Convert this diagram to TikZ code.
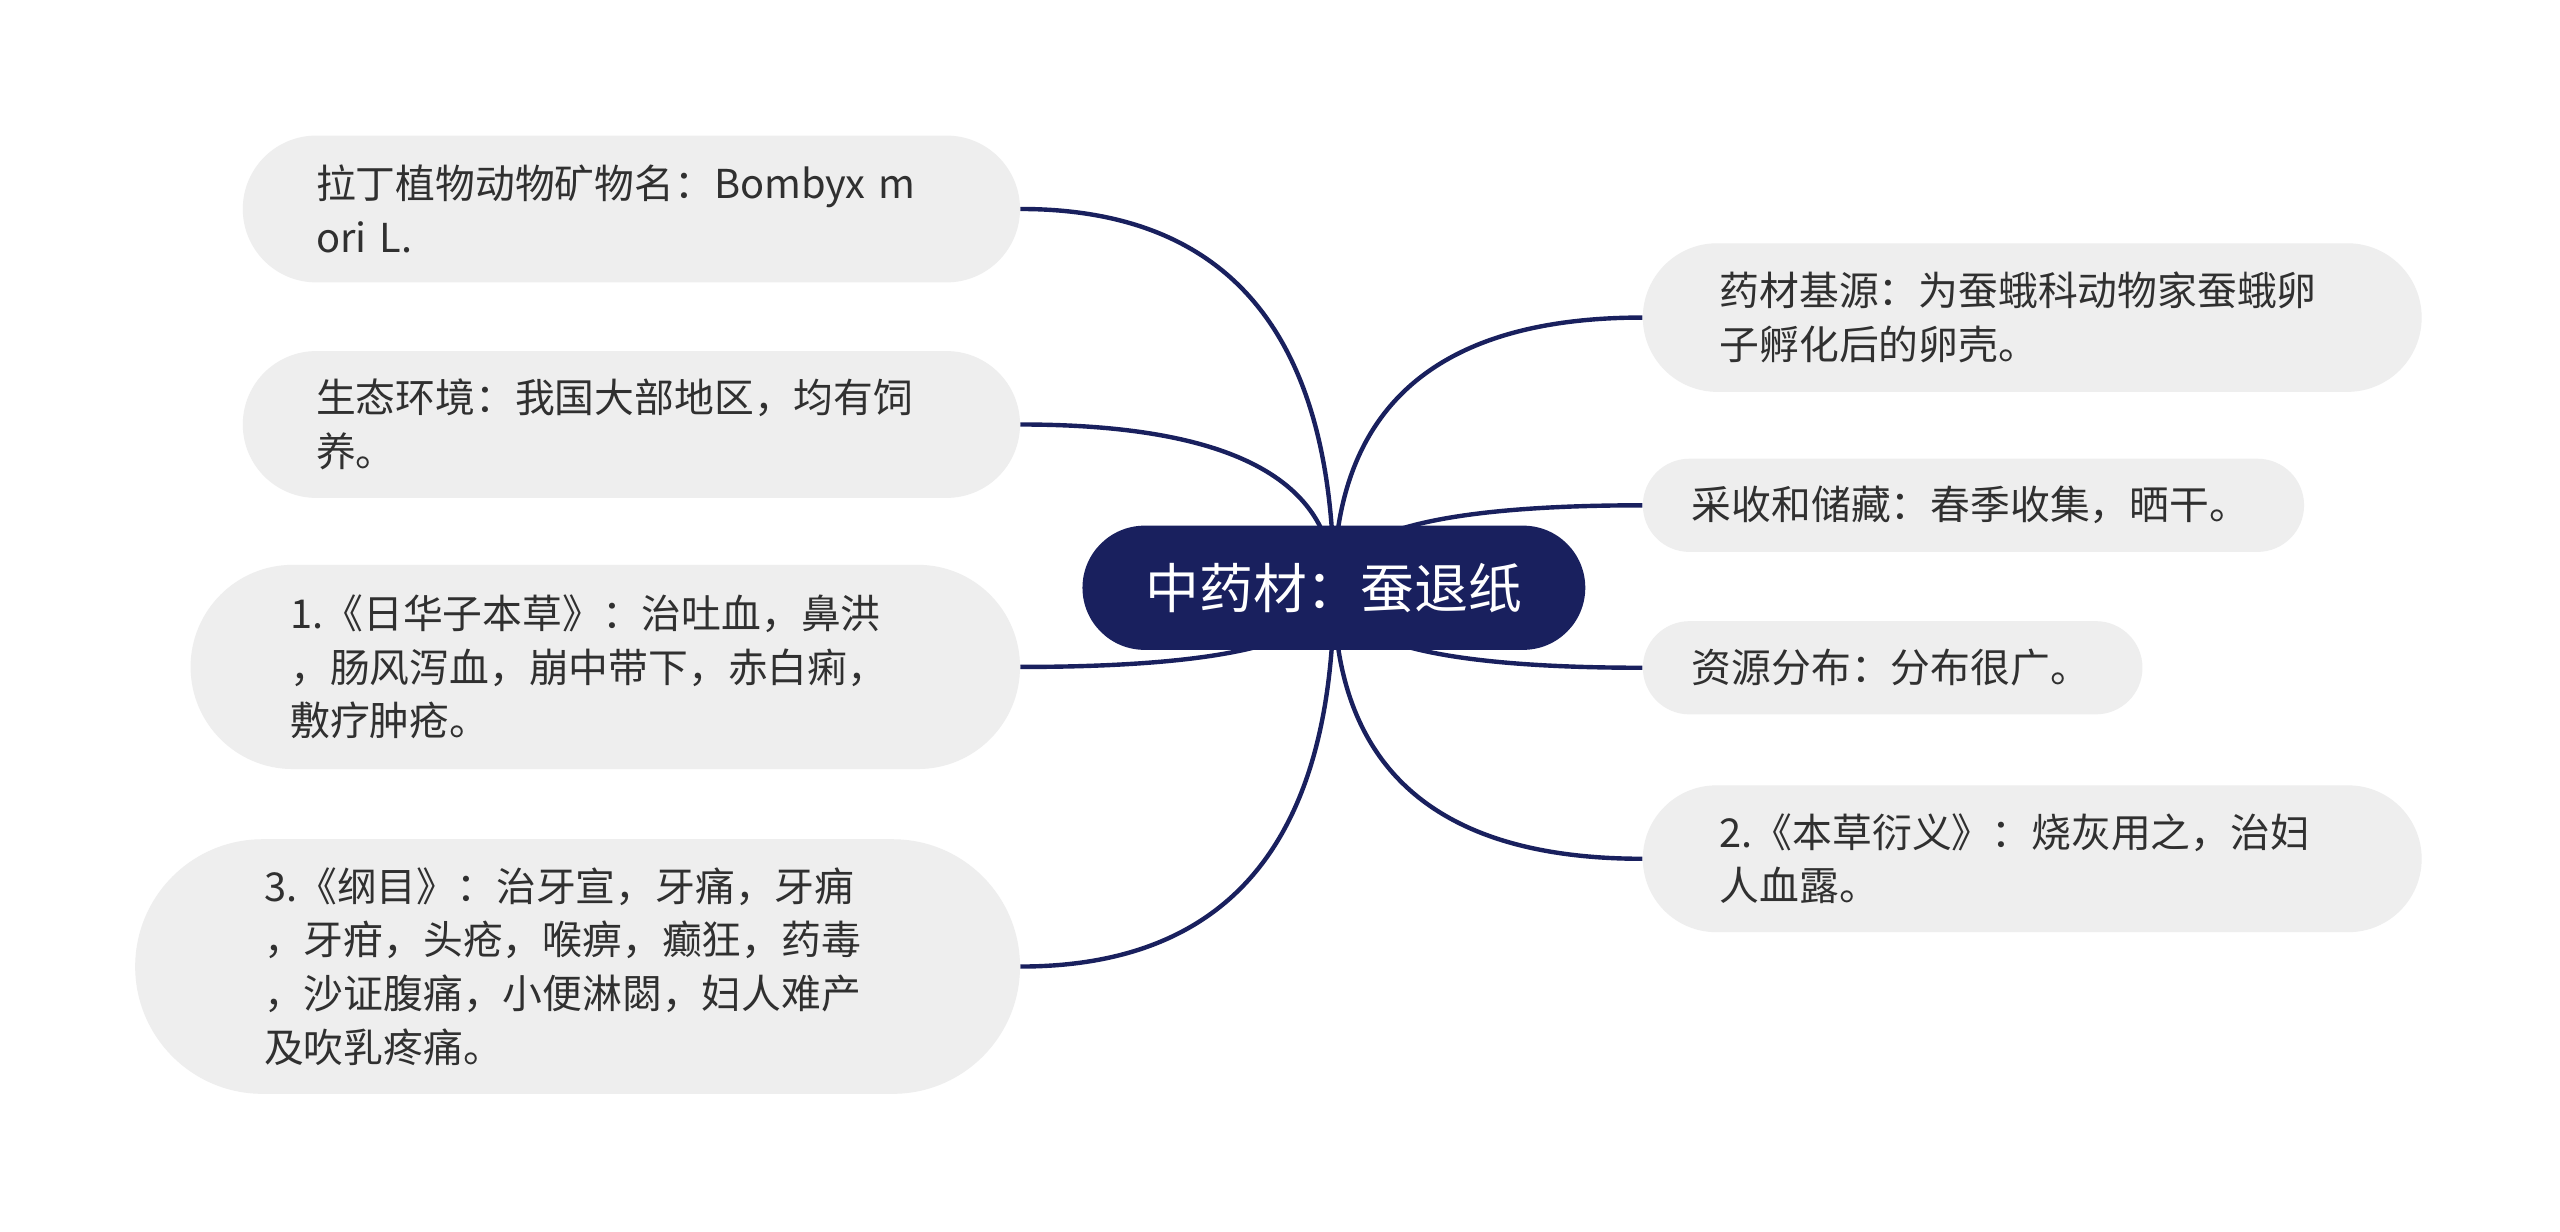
\documentclass[tikz,border=0pt]{standalone}
\usepackage{fontspec}
\newfontfamily\cjkfont{Noto Sans CJK SC}
\usetikzlibrary{calc,backgrounds}
\definecolor{hubblue}{HTML}{19205E}
\definecolor{boxgray}{HTML}{EEEEEE}
\definecolor{textgray}{HTML}{303030}

\begin{document}
\begin{tikzpicture}[x=0.8163pt,y=-0.8163pt]
  \tikzset{HubStyle/.style = {
    shape          = rectangle,
    fill           = hubblue,
    text           = white,
    minimum width  = 251.4pt,
    minimum height = 62.1pt,
    rounded corners = 31.05pt,
    inner sep      = 0pt,
    font           = \cjkfont\fontsize{26.9pt}{32pt}\selectfont
    }
  }
  \tikzset{TopicStyle/.style = {
    shape          = rectangle,
    fill           = boxgray,
    text           = textgray,
    align          = left,
    inner ysep     = 0pt,
    font           = \cjkfont\fontsize{19.9pt}{26.9pt}\selectfont
    }
  }
  \tikzset{BranchStyle/.style = {
    draw           = hubblue,
    line width     = 2.2pt,
    to path        = {.. controls ($(\tikztostart)!0.667!(\tikztostart|-\tikztotarget)$)
                      and ($(\tikztotarget)!0.667!(\tikztostart|-\tikztotarget)$) .. (\tikztotarget)}
    }
  }

  \useasboundingbox (0,0) rectangle (1568,754);

  \node[HubStyle](H0) at (817,360) {中药材：蚕退纸};

  % left side
  \node[TopicStyle, anchor=east, minimum width=388.6pt, minimum height=73.4pt,
        rounded corners=36.7pt, inner xsep=36.7pt, text width=315.2pt](L1) at (625,128)
        {拉丁植物动物矿物名：Bombyx m\\ori L.};
  \node[TopicStyle, anchor=east, minimum width=388.6pt, minimum height=73.4pt,
        rounded corners=36.7pt, inner xsep=36.7pt, text width=315.2pt](L2) at (625,260)
        {生态环境：我国大部地区，均有饲\\养。};
  \node[TopicStyle, anchor=east, minimum width=414.7pt, minimum height=102.1pt,
        rounded corners=51.05pt, inner xsep=49.85pt, text width=315pt](L3) at (625,408.5)
        {1.《日华子本草》：治吐血，鼻洪\\，肠风泻血，崩中带下，赤白痢，\\敷疗肿疮。};
  \node[TopicStyle, anchor=east, minimum width=442.4pt, minimum height=127.3pt,
        rounded corners=63.65pt, inner xsep=64.5pt, text width=313.4pt](L4) at (625,592)
        {3.《纲目》：治牙宣，牙痛，牙痈\\，牙疳，头疮，喉痹，癫狂，药毒\\，沙证腹痛，小便淋閟，妇人难产\\及吹乳疼痛。};

  % right side
  \node[TopicStyle, anchor=west, minimum width=389.4pt, minimum height=74.3pt,
        rounded corners=37.15pt, inner xsep=38.4pt, text width=312.6pt](R1) at (1006,194.5)
        {药材基源：为蚕蛾科动物家蚕蛾卵\\子孵化后的卵壳。};
  \node[TopicStyle, anchor=west, minimum width=330.6pt, minimum height=46.6pt,
        rounded corners=23.3pt, inner xsep=24.5pt, text width=281.6pt](R2) at (1006,309.5)
        {采收和储藏：春季收集，晒干。};
  \node[TopicStyle, anchor=west, minimum width=249.8pt, minimum height=46.6pt,
        rounded corners=23.3pt, inner xsep=24.5pt, text width=200.8pt](R3) at (1006,409)
        {资源分布：分布很广。};
  \node[TopicStyle, anchor=west, minimum width=389.4pt, minimum height=73.4pt,
        rounded corners=36.7pt, inner xsep=38.4pt, text width=312.6pt](R4) at (1006,526)
        {2.《本草衍义》：烧灰用之，治妇\\人血露。};

  \begin{pgfonlayer}{background}
    \fill[white] (0,0) rectangle (1568,754);
    \draw[BranchStyle] (H0.center) to (L1.east);
    \draw[BranchStyle] (H0.center) to (L2.east);
    \draw[BranchStyle] (H0.center) to (L3.east);
    \draw[BranchStyle] (H0.center) to (L4.east);
    \draw[BranchStyle] (H0.center) to (R1.west);
    \draw[BranchStyle] (H0.center) to (R2.west);
    \draw[BranchStyle] (H0.center) to (R3.west);
    \draw[BranchStyle] (H0.center) to (R4.west);
  \end{pgfonlayer}
\end{tikzpicture}
\end{document}
